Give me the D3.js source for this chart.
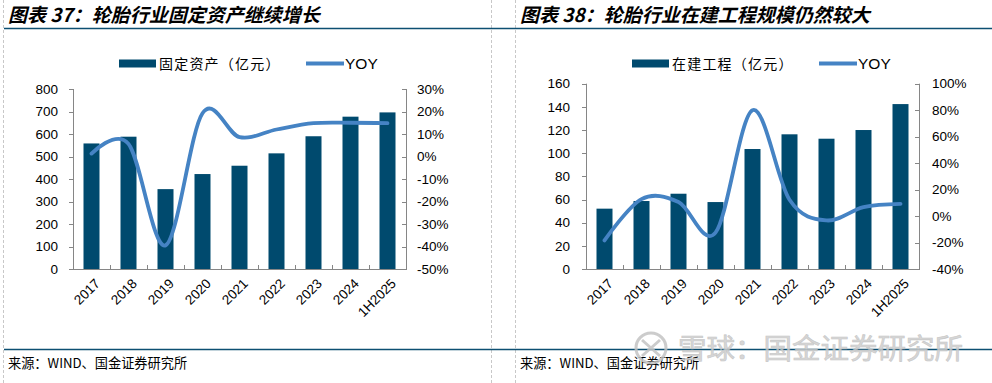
<!DOCTYPE html>
<html><head><meta charset="utf-8">
<script src="https://cdn.jsdelivr.net/npm/d3@7"></script>
<style>
html,body{margin:0;padding:0;background:#fff;}
svg{display:block;}
</style></head>
<body>
<svg id="c" width="992" height="383"></svg>
<script>
// ---- data ----
const categories = ["2017","2018","2019","2020","2021","2022","2023","2024","1H2025"];
const fixedAssets = [558, 588, 355, 422, 459, 514, 590, 677, 696];
const fixedAssetsYoy = [1.3, 5.6, -39.5, 19.2, 8.6, 12.0, 14.8, 15.0, 14.8];
const fixedLeftTicks = [0,100,200,300,400,500,600,700,800];
const fixedRightTicks = [-50,-40,-30,-20,-10,0,10,20,30];

const cip = [52.1, 58.7, 65.0, 57.8, 103.6, 116.3, 112.5, 120.0, 142.4];
const cipYoy = [-18.4, 12.8, 10.6, -12.5, 80.0, 12.3, -3.3, 6.7, 9.2];
const cipLeftTicks = [0,20,40,60,80,100,120,140,160];
const cipRightTicks = [-40,-20,0,20,40,60,80,100];

const titles = ["图表 37：轮胎行业固定资产继续增长", "图表 38：轮胎行业在建工程规模仍然较大"];
const barNames = ["固定资产（亿元）", "在建工程（亿元）"];
const lineName = "YOY";
const sourceText = "来源：WIND、国金证券研究所";
const watermark = "雪球：国金证券研究所";

// ---- styles ----
const BAR = "#004a6e", LINE = "#4583c4", AXIS = "#868686", RULE = "#0d4f72";
const NUM_FONT = "'Liberation Sans', Arial, sans-serif";
const CJK_FONT = "'Noto Sans CJK SC', sans-serif";

const svg = d3.select("#c");

// frame lines
[3.5, 491.5, 515.5].forEach(x => {
  svg.append("line").attr("x1", x).attr("x2", x).attr("y1", 0).attr("y2", 383)
    .attr("stroke", "#c8c8c8").attr("stroke-dasharray", "3,2").attr("stroke-width", 1);
});
svg.append("line").attr("x1", 4).attr("x2", 992).attr("y1", 28.5).attr("y2", 28.5)
  .attr("stroke", RULE).attr("stroke-width", 1.5);
svg.append("line").attr("x1", 4).attr("x2", 992).attr("y1", 349.5).attr("y2", 349.5)
  .attr("stroke", RULE).attr("stroke-width", 1.5);

function drawChart(o) {
  const g = svg.append("g");
  // title
  g.append("text").attr("x", o.titleX).attr("y", 22).text(o.title)
    .attr("font-family", CJK_FONT).attr("font-size", 19).attr("font-weight", "bold")
    .attr("font-style", "italic").attr("fill", "#000");
  // source
  g.append("text").attr("x", o.titleX).attr("y", 368).text(sourceText)
    .attr("font-family", CJK_FONT).attr("font-size", 13.2).attr("fill", "#000");

  const xb = d3.scaleBand().domain(categories).range([o.x0, o.x1]);
  const yL = d3.scaleLinear().domain([o.leftTicks[0], o.leftTicks[o.leftTicks.length-1]]).range([o.yBot, o.yTop]);
  const yR = d3.scaleLinear().domain([o.rightTicks[0], o.rightTicks[o.rightTicks.length-1]]).range([o.yBot, o.yTop]);

  // bars
  g.selectAll("rect.bar").data(o.bars).enter().append("rect")
    .attr("x", (d,i) => xb(categories[i]) + xb.bandwidth()/2 - 8)
    .attr("width", 16)
    .attr("y", d => yL(d)).attr("height", d => yL(0) - yL(d))
    .attr("fill", BAR);

  // axes
  const ax = g.append("g").attr("stroke", AXIS).attr("stroke-width", 1).attr("fill", "none");
  ax.append("line").attr("x1", o.x0 + 0.5).attr("x2", o.x0 + 0.5).attr("y1", o.yTop).attr("y2", o.yBot);
  ax.append("line").attr("x1", o.x1 + 0.5).attr("x2", o.x1 + 0.5).attr("y1", o.yTop).attr("y2", o.yBot);
  ax.append("line").attr("x1", o.x0).attr("x2", o.x1 + 1).attr("y1", o.yBot + 0.5).attr("y2", o.yBot + 0.5);
  o.leftTicks.forEach(t => {
    const yy = Math.round(yL(t)) + 0.5;
    ax.append("line").attr("x1", o.x0 - 4).attr("x2", o.x0 + 0.5).attr("y1", yy).attr("y2", yy);
  });
  o.rightTicks.forEach(t => {
    const yy = Math.round(yR(t)) + 0.5;
    ax.append("line").attr("x1", o.x1 - 4).attr("x2", o.x1 + 0.5).attr("y1", yy).attr("y2", yy);
  });
  for (let i = 1; i < categories.length; i++) {
    const xx = Math.round(xb(categories[i])) + 0.5;
    ax.append("line").attr("x1", xx).attr("x2", xx).attr("y1", o.yBot).attr("y2", o.yBot - 4);
  }

  // tick labels
  g.selectAll("text.lt").data(o.leftTicks).enter().append("text")
    .attr("x", o.x0 - o.leftPad).attr("y", d => yL(d)).attr("dy", "0.35em")
    .attr("text-anchor", "end").attr("font-family", NUM_FONT).attr("font-size", 13.5)
    .attr("fill", "#000").text(d => d);
  g.selectAll("text.rt").data(o.rightTicks).enter().append("text")
    .attr("x", o.x1 + o.rightPad).attr("y", d => yR(d)).attr("dy", "0.35em")
    .attr("text-anchor", "start").attr("font-family", NUM_FONT).attr("font-size", 13.5)
    .attr("fill", "#000").text(d => d + "%");
  g.selectAll("text.xt").data(categories).enter().append("text")
    .attr("transform", d => `translate(${xb(d) + xb.bandwidth()/2 + 6},${o.yBot + 12}) rotate(-45)`)
    .attr("text-anchor", "end").attr("dy", "0.35em")
    .attr("font-family", NUM_FONT).attr("font-size", 13.5).attr("fill", "#000").text(d => d);

  // line
  const line = d3.line()
    .x((d,i) => xb(categories[i]) + xb.bandwidth()/2)
    .y(d => yR(d))
    .curve(d3.curveCardinal.tension(0));
  g.append("path").datum(o.yoy).attr("d", line).attr("fill", "none")
    .attr("stroke", LINE).attr("stroke-width", 3.8).attr("stroke-linecap", "round")
    .attr("stroke-linejoin", "round");

  // legend
  const ly = o.legendY;
  g.append("rect").attr("x", o.legX).attr("y", ly - 4).attr("width", 37).attr("height", 8).attr("fill", BAR);
  g.append("text").attr("x", o.legX + 40).attr("y", ly).attr("dy", "0.36em").text(o.barName)
    .attr("font-family", CJK_FONT).attr("font-size", 14).attr("letter-spacing", 1.2).attr("fill", "#000");
  g.append("line").attr("x1", o.legLineX).attr("x2", o.legLineX + 38).attr("y1", ly).attr("y2", ly)
    .attr("stroke", LINE).attr("stroke-width", 4);
  g.append("text").attr("x", o.legLineX + 39).attr("y", ly).attr("dy", "0.36em").text(lineName)
    .attr("font-family", NUM_FONT).attr("font-size", 15.5).attr("fill", "#000");
}

drawChart({
  title: titles[0], titleX: 8, x0: 73, x1: 406, yTop: 89, yBot: 269,
  leftTicks: fixedLeftTicks, rightTicks: fixedRightTicks, bars: fixedAssets, yoy: fixedAssetsYoy,
  leftPad: 15, rightPad: 11, legendY: 63.5, legX: 119, legLineX: 306, barName: barNames[0]
});
drawChart({
  title: titles[1], titleX: 520, x0: 586, x1: 919, yTop: 83.7, yBot: 269,
  leftTicks: cipLeftTicks, rightTicks: cipRightTicks, bars: cip, yoy: cipYoy,
  leftPad: 16, rightPad: 13, legendY: 63.5, legX: 632, legLineX: 819, barName: barNames[1]
});

// watermark
const wm = svg.append("g").attr("opacity", 0.85);
wm.append("circle").attr("cx", 651).attr("cy", 348).attr("r", 15)
  .attr("fill", "none").attr("stroke", "#c4c4c4").attr("stroke-width", 3);
wm.append("path").attr("d", "M642,340 L660,356 M660,340 L642,356")
  .attr("stroke", "#c4c4c4").attr("stroke-width", 3).attr("fill", "none");
wm.append("text").attr("x", 678).attr("y", 359).text(watermark)
  .attr("font-family", CJK_FONT).attr("font-size", 28.5).attr("fill", "#cfcfcf")
  .attr("stroke", "#bdbdbd").attr("stroke-width", 0.6);
</script>
</body></html>
